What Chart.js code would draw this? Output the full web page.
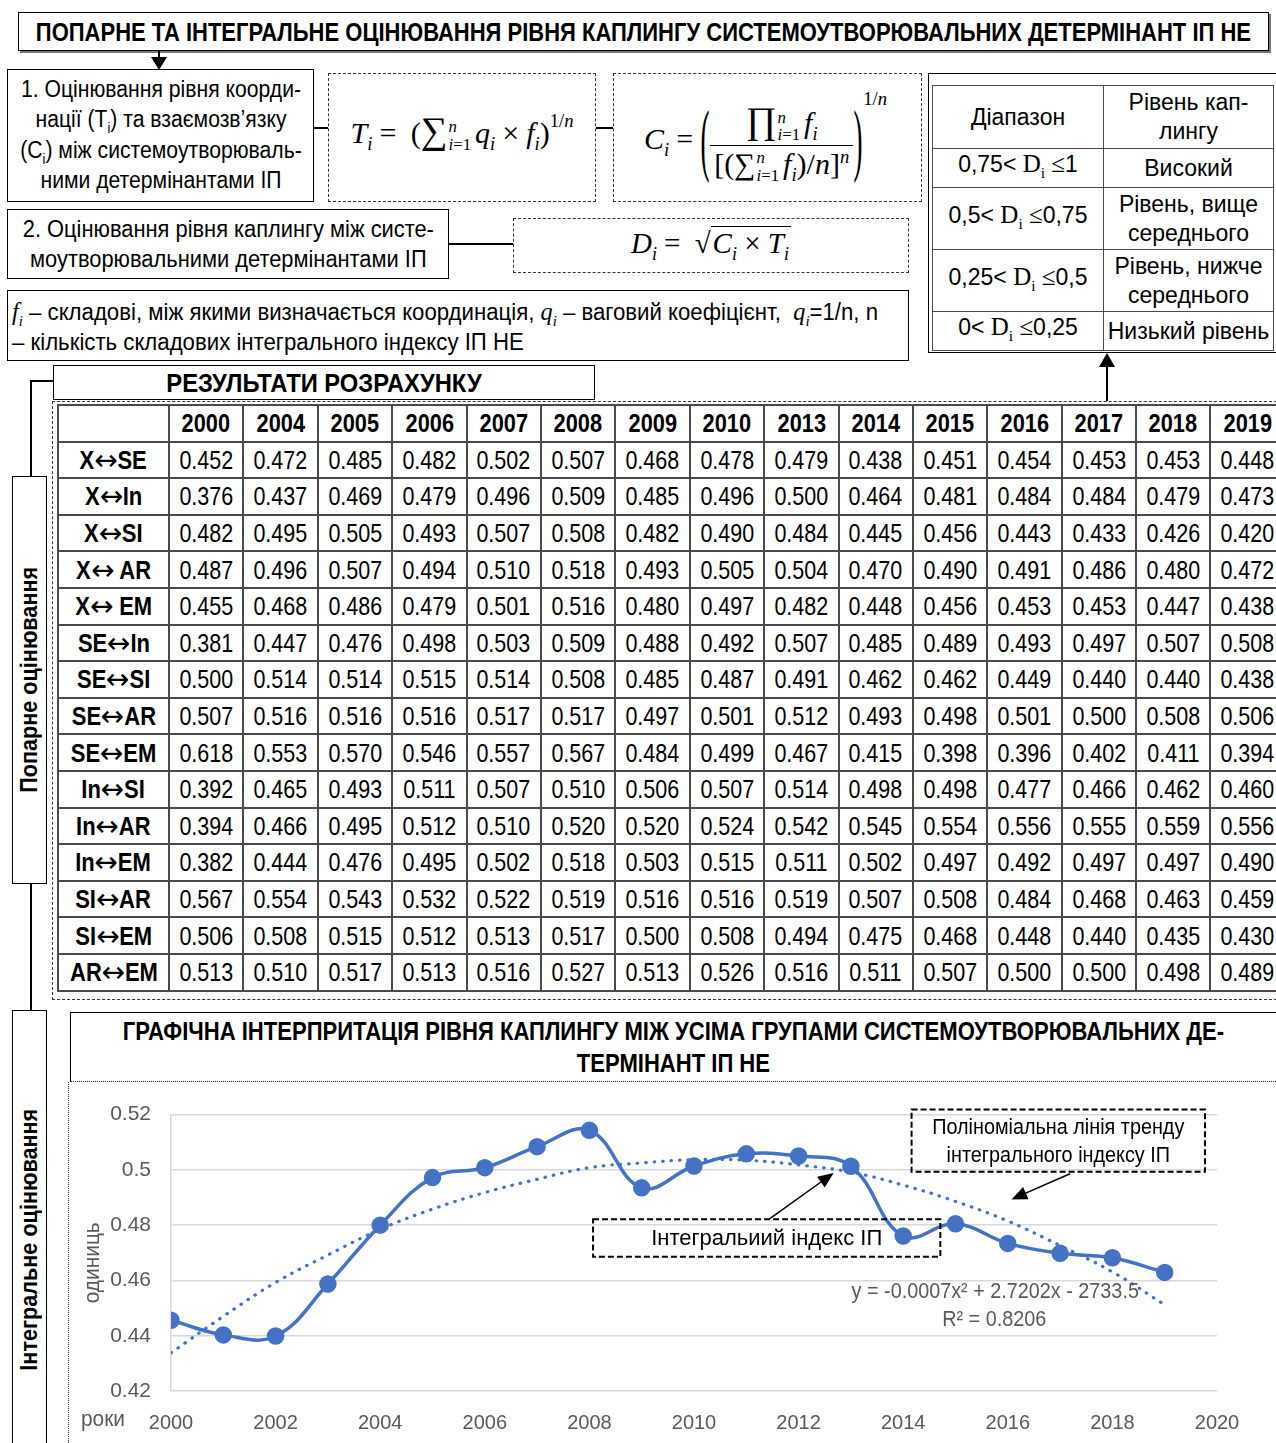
<!DOCTYPE html>
<html lang="uk">
<head>
<meta charset="utf-8">
<script src="https://cdn.jsdelivr.net/npm/chart.js@4.4.1/dist/chart.umd.min.js"></script>
<style>
  body { margin: 0; width: 1276px; height: 1443px; overflow: hidden; background: #fff; position: relative;
         font-family: "Liberation Sans", Arial, sans-serif; color: #000; }
  .abs { position: absolute; box-sizing: border-box; }
  .solid { border: 1.5px solid #000; }
  .dash { border: 1.5px dashed #333; }
  .txt { font-size: 23px; line-height: 30.5px; text-align: center; display: flex; align-items: center; justify-content: center; }
  .txt sub { line-height: 0; font-size: 60%; }
  .head { display: flex; align-items: center; justify-content: center; font-weight: bold; font-size: 25px; line-height: 32px; text-align: center; overflow: hidden; }
  .hl { background: #000; }
  .sq { display: inline-block; white-space: nowrap; transform: scaleX(var(--s, 1)); transform-origin: center; flex-shrink: 0; }
  .fx { font-family: "Liberation Serif", "DejaVu Serif", serif; font-size: 30px; white-space: nowrap; }
  .fx sub, .fx sup { font-size: 62%; }
  .op { margin: 0 7px; }
  .lim { display: inline-block; vertical-align: middle; font-size: 56%; line-height: 1.05; text-align: left; margin: 0 4px 0 1px; }
  .lim span { display: block; }
  .big { font-size: 125%; }
  .frac { display: inline-block; vertical-align: middle; text-align: center; }
  .frac > span { display: block; padding: 0 4px; line-height: 1.15; }
  .frac .num { border-bottom: 1.5px solid #000; }
  .bigp { display: inline-block; transform: scale(0.9, 2.7); vertical-align: middle; font-weight: 100; margin-top: -6px; }
  .mi { font-family: "Liberation Serif", serif; font-style: italic; font-size: 25px; line-height: 1; }
  .mi sub { font-size: 62%; line-height: 0; }
  .sr { font-family: "Liberation Serif", serif; font-size: 25px; }
  .sr sub { font-size: 62%; }
  .arr { font-family: "DejaVu Sans", sans-serif; font-weight: normal; font-size: 29px; line-height: 0; vertical-align: -1px; display: inline-block; transform: scaleX(1.1); margin: 0 1px; }
  table { border-collapse: collapse; table-layout: fixed; }
  #pairs tr { height: 36.6px; }
  #pairs td, #pairs th { border: 2px solid #4a4a4a; padding: 0; text-align: center; font-size: 25px; line-height: 28px; white-space: nowrap; overflow: hidden; }
  #pairs th { font-weight: bold; }
  #ranges td { border: 1.5px solid #4a4a4a; padding: 0; text-align: center; font-size: 23px; line-height: 29px; }
  .vlab { writing-mode: vertical-rl; transform: rotate(180deg); font-weight: bold; font-size: 23px; display: flex; align-items: center; justify-content: center; }
  .vlab span { display: inline-block; transform: scaleY(0.94); }
</style>
</head>
<body>

<div class="abs solid head" style="left:18px;top:12px;width:1251px;height:39px;box-shadow:2px 2px 0 #777;"><span class="sq fit" data-w="1215">ПОПАРНЕ ТА ІНТЕГРАЛЬНЕ ОЦІНЮВАННЯ РІВНЯ КАПЛИНГУ СИСТЕМОУТВОРЮВАЛЬНИХ ДЕТЕРМІНАНТ ІП НЕ</span></div>

<!-- arrows and connectors -->
<div class="abs hl" style="left:158px;top:51px;width:1.5px;height:10px;"></div>
<svg class="abs" style="left:150px;top:57px;" width="18" height="13"><polygon points="1,0 17,0 9,13" fill="#000"/></svg>

<div class="abs solid txt" style="left:7px;top:69px;width:307px;height:133px;padding-bottom:2px;"><span class="sq" style="--s:0.92">1. Оцінювання рівня коорди-<br>нації (T<sub>i</sub>) та взаємозв’язку<br>(C<sub>i</sub>) між системоутворюваль-<br>ними детермінантами ІП</span></div>
<div class="abs hl" style="left:314px;top:127px;width:14px;height:1.5px;"></div>

<div class="abs dash" style="left:328px;top:73px;width:268px;height:129px;display:flex;align-items:center;justify-content:center;padding-bottom:12px;">
  <div class="fx"><i>T</i><sub><i>i</i></sub><span class="op">=</span>&nbsp;(<span class="big">∑</span><span class="lim"><span><i>n</i></span><span><i>i</i>=1</span></span><i>q</i><sub><i>i</i></sub><span class="op">×</span><i>f</i><sub><i>i</i></sub>)<sup style="vertical-align:16px">1/<i>n</i></sup></div>
</div>
<div class="abs hl" style="left:596px;top:127px;width:17px;height:1.5px;"></div>

<div class="abs dash" style="left:613px;top:73px;width:309px;height:129px;display:flex;align-items:flex-start;justify-content:center;padding-top:14px;padding-right:4px;">
  <div class="fx"><i>C</i><sub><i>i</i></sub><span class="op">=</span><span class="bigp">(</span><span class="frac"><span class="num"><span class="big">∏</span><span class="lim"><span><i>n</i></span><span><i>i</i>=1</span></span><i>f</i><sub><i>i</i></sub></span><span>[(∑<span class="lim"><span><i>n</i></span><span><i>i</i>=1</span></span><i>f</i><sub><i>i</i></sub>)/<i>n</i>]<sup><i>n</i></sup></span></span><span class="bigp">)</span><sup style="vertical-align:44px">1/<i>n</i></sup></div>
</div>

<div class="abs solid txt" style="left:7px;top:209px;width:442px;height:70px;"><span class="sq" style="--s:0.95">2. Оцінювання рівня каплингу між систе-<br>моутворювальними детермінантами ІП</span></div>
<div class="abs hl" style="left:449px;top:243px;width:64px;height:1.5px;"></div>
<div class="abs dash" style="left:513px;top:218px;width:396px;height:55px;display:flex;align-items:center;justify-content:center;">
  <div class="fx" style="font-size:29px"><i>D</i><sub><i>i</i></sub><span class="op">=</span>&nbsp;√<span style="border-top:1.5px solid #000;padding:0 2px;"><i>C</i><sub><i>i</i></sub> × <i>T</i><sub><i>i</i></sub></span></div>
</div>

<div class="abs solid" style="left:7px;top:290px;width:902px;height:71px;font-size:23px;line-height:30px;padding:6px 0 0 4px;overflow:hidden;">
  <span class="sq" style="--s:0.965;transform-origin:left;"><span class="mi">f<sub>i</sub></span> – складові, між якими визначається координація, <span class="mi">q<sub>i</sub></span> – ваговий коефіцієнт,&nbsp; <span class="mi">q<sub>i</sub></span>=1/n, n<br>– кількість складових інтегрального індексу ІП НЕ</span>
</div>

<div class="abs solid" style="left:928px;top:73px;width:360px;height:280px;"></div>
<table id="ranges" class="abs" style="left:932px;top:85px;width:341px;">
  <colgroup><col style="width:171px"><col style="width:170px"></colgroup>
  <tbody id="rangeBody"></tbody>
</table>
<div class="abs hl" style="left:1106px;top:365px;width:1.5px;height:36px;"></div>
<svg class="abs" style="left:1099px;top:353px;" width="16" height="14"><polygon points="8,0 16,14 0,14" fill="#000"/></svg>

<!-- left side labels -->
<div class="abs hl" style="left:30px;top:380px;width:23px;height:1.5px;"></div>
<div class="abs hl" style="left:30px;top:380px;width:1.5px;height:96px;"></div>
<div class="abs solid vlab" style="left:12px;top:476px;width:35px;height:408px;"><span>Попарне оцінювання</span></div>
<div class="abs hl" style="left:30px;top:884px;width:1.5px;height:126px;"></div>
<div class="abs solid vlab" style="left:12px;top:1010px;width:35px;height:460px;"><span>Інтегральне оцінювання</span></div>

<div class="abs solid head" style="left:53px;top:365px;width:542px;height:35px;"><span class="sq" style="--s:0.95">РЕЗУЛЬТАТИ РОЗРАХУНКУ</span></div>
<div class="abs dash" style="left:52px;top:401px;width:1240px;height:599px;"></div>
<table id="pairs" class="abs" style="left:57px;top:404px;width:1227px;">
  <colgroup id="pairCols"></colgroup>
  <thead id="pairHead"></thead>
  <tbody id="pairBody"></tbody>
</table>

<div class="abs head" style="left:70px;top:1012px;width:1220px;height:70px;border:1.5px solid #000;border-bottom:1.5px dotted #333;padding-right:14px;"><span class="sq fit" data-w="1102">ГРАФІЧНА ІНТЕРПРИТАЦІЯ РІВНЯ КАПЛИНГУ МІЖ УСІМА ГРУПАМИ СИСТЕМОУТВОРЮВАЛЬНИХ ДЕ-<br>ТЕРМІНАНТ ІП НЕ</span></div>
<div class="abs" style="left:68px;top:1082px;width:1208px;height:361px;border-left:1.5px dotted #333;">
  <canvas id="chart" width="1207" height="361"></canvas>
</div>

<script>
// ---- table data: pairwise coupling ----
const tableYears = [2000, 2004, 2005, 2006, 2007, 2008, 2009, 2010, 2013, 2014, 2015, 2016, 2017, 2018, 2019];
const pairLeft  = ['X', 'X', 'X', 'X', 'X', 'SE', 'SE', 'SE', 'SE', 'In', 'In', 'In', 'SI', 'SI', 'AR'];
const pairRight = ['SE', 'In', 'SI', ' AR', ' EM', 'In', 'SI', 'AR', 'EM', 'SI', 'AR', 'EM', 'AR', 'EM', 'EM'];
const rowXSE  = ['0.452', '0.472', '0.485', '0.482', '0.502', '0.507', '0.468', '0.478', '0.479', '0.438', '0.451', '0.454', '0.453', '0.453', '0.448'];
const rowXIn  = ['0.376', '0.437', '0.469', '0.479', '0.496', '0.509', '0.485', '0.496', '0.500', '0.464', '0.481', '0.484', '0.484', '0.479', '0.473'];
const rowXSI  = ['0.482', '0.495', '0.505', '0.493', '0.507', '0.508', '0.482', '0.490', '0.484', '0.445', '0.456', '0.443', '0.433', '0.426', '0.420'];
const rowXAR  = ['0.487', '0.496', '0.507', '0.494', '0.510', '0.518', '0.493', '0.505', '0.504', '0.470', '0.490', '0.491', '0.486', '0.480', '0.472'];
const rowXEM  = ['0.455', '0.468', '0.486', '0.479', '0.501', '0.516', '0.480', '0.497', '0.482', '0.448', '0.456', '0.453', '0.453', '0.447', '0.438'];
const rowSEIn = ['0.381', '0.447', '0.476', '0.498', '0.503', '0.509', '0.488', '0.492', '0.507', '0.485', '0.489', '0.493', '0.497', '0.507', '0.508'];
const rowSESI = ['0.500', '0.514', '0.514', '0.515', '0.514', '0.508', '0.485', '0.487', '0.491', '0.462', '0.462', '0.449', '0.440', '0.440', '0.438'];
const rowSEAR = ['0.507', '0.516', '0.516', '0.516', '0.517', '0.517', '0.497', '0.501', '0.512', '0.493', '0.498', '0.501', '0.500', '0.508', '0.506'];
const rowSEEM = ['0.618', '0.553', '0.570', '0.546', '0.557', '0.567', '0.484', '0.499', '0.467', '0.415', '0.398', '0.396', '0.402', '0.411', '0.394'];
const rowInSI = ['0.392', '0.465', '0.493', '0.511', '0.507', '0.510', '0.506', '0.507', '0.514', '0.498', '0.498', '0.477', '0.466', '0.462', '0.460'];
const rowInAR = ['0.394', '0.466', '0.495', '0.512', '0.510', '0.520', '0.520', '0.524', '0.542', '0.545', '0.554', '0.556', '0.555', '0.559', '0.556'];
const rowInEM = ['0.382', '0.444', '0.476', '0.495', '0.502', '0.518', '0.503', '0.515', '0.511', '0.502', '0.497', '0.492', '0.497', '0.497', '0.490'];
const rowSIAR = ['0.567', '0.554', '0.543', '0.532', '0.522', '0.519', '0.516', '0.516', '0.519', '0.507', '0.508', '0.484', '0.468', '0.463', '0.459'];
const rowSIEM = ['0.506', '0.508', '0.515', '0.512', '0.513', '0.517', '0.500', '0.508', '0.494', '0.475', '0.468', '0.448', '0.440', '0.435', '0.430'];
const rowAREM = ['0.513', '0.510', '0.517', '0.513', '0.516', '0.527', '0.513', '0.526', '0.516', '0.511', '0.507', '0.500', '0.500', '0.498', '0.489'];
const pairRows = [rowXSE, rowXIn, rowXSI, rowXAR, rowXEM, rowSEIn, rowSESI, rowSEAR, rowSEEM, rowInSI, rowInAR, rowInEM, rowSIAR, rowSIEM, rowAREM];

// ---- range table ----
const rangeHeads = ['Діапазон', 'Рівень кап-<br>лингу'];
const rangeLow  = ['0,75', '0,5', '0,25', '0'];
const rangeHigh = ['1', '0,75', '0,5', '0,25'];
const rangeNames = ['Високий', 'Рівень, вище<br>середнього', 'Рівень, нижче<br>середнього', 'Низький рівень'];

// ---- chart data: integral index ----
const chartYears  = [2000, 2001, 2002, 2003, 2004, 2005, 2006, 2007, 2008, 2009, 2010, 2011, 2012, 2013, 2014, 2015, 2016, 2017, 2018, 2019];
const indexValues = [0.4456, 0.4403, 0.4399, 0.4587, 0.4800, 0.4972, 0.5008, 0.5084, 0.5143, 0.4935, 0.5014, 0.5058, 0.5050, 0.5013, 0.4761, 0.4805, 0.4734, 0.4698, 0.4682, 0.4629];
const trendValues = [0.4338, 0.4470, 0.4593, 0.4692, 0.4785, 0.4858, 0.4918, 0.4966, 0.5008, 0.5025, 0.5037, 0.5035, 0.5018, 0.4992, 0.4945, 0.4886, 0.4815, 0.4726, 0.4631, 0.4512];
const equationLines = ['y = -0.0007x² + 2.7202x - 2733.5', 'R² = 0.8206'];

const FONT = '"Liberation Sans", Arial, sans-serif';
const BLUE = '#4472C4';
const GREY = '#595959';

// build pairwise table
document.getElementById('pairCols').innerHTML = '<col style="width:111px">' + tableYears.map(() => '<col style="width:74.4px">').join('');
document.getElementById('pairHead').innerHTML = '<tr><th></th>' + tableYears.map(y => `<th><span class="sq" style="--s:0.87">${y}</span></th>`).join('') + '</tr>';
document.getElementById('pairBody').innerHTML = pairRows.map((row, i) =>
    `<tr><th><span class="sq" style="--s:0.88">${pairLeft[i]}<span class="arr">↔</span>${pairRight[i]}</span></th>` +
    row.map(v => `<td><span class="sq" style="--s:0.86">${v}</span></td>`).join('') + '</tr>'
).join('');

// build ranges table
const heights = [63, 33, 62, 62, 33];
let rhtml = `<tr style="height:${heights[0]}px"><td>${rangeHeads[0]}</td><td>${rangeHeads[1]}</td></tr>`;
rangeLow.forEach((lo, i) => {
    rhtml += `<tr style="height:${heights[i + 1]}px"><td>${lo}&lt; <span class="sr">D<sub>i</sub> ≤</span>${rangeHigh[i]}</td><td>${rangeNames[i]}</td></tr>`;
});
document.getElementById('rangeBody').innerHTML = rhtml;

// squeeze long headings to the width they take in the original
document.querySelectorAll('.fit').forEach(el => {
    el.style.setProperty('--s', (+el.dataset.w / el.offsetWidth).toFixed(3));
});

// annotation boxes, arrows and labels placed in data coordinates
const noteBoxes = [
    { x0: 2014.16, x1: 2019.77, y0: 0.5218, y1: 0.4993, squeeze: 0.9, lines: ['Поліноміальна лінія тренду', 'інтегрального індексу ІП'] },
    { x0: 2008.07, x1: 2014.71, y0: 0.4821, y1: 0.4686, squeeze: 1, lines: ['Інтегральиий індекс ІП'] }
];
const noteArrows = [
    { from: [2017.19, 0.4986], to: [2016.07, 0.4893] },
    { from: [2011.43, 0.4821], to: [2012.67, 0.4989] }
];
const equationPos = [[2015.76, 0.4557], [2015.74, 0.4457]];

const squeezedText = (ctx, text, cx, cy, k) => {
    ctx.save();
    ctx.translate(cx, cy);
    ctx.scale(k, 1);
    ctx.fillText(text, 0, 0);
    ctx.restore();
};

const notesPlugin = {
    id: 'notes',
    afterDraw(chart) {
        const { ctx, chartArea } = chart;
        const x = chart.scales.x, y = chart.scales.y;
        ctx.save();
        // axis captions
        ctx.fillStyle = GREY;
        ctx.font = `22px ${FONT}`;
        ctx.textAlign = 'center';
        ctx.textBaseline = 'middle';
        squeezedText(ctx, 'роки', chartArea.left - 68, chartArea.bottom + 29, 0.95);
        ctx.save();
        ctx.translate(chartArea.left - 78, (chartArea.top + chartArea.bottom) / 2 + 10);
        ctx.rotate(-Math.PI / 2);
        squeezedText(ctx, 'одиниць', 0, 0, 0.95);
        ctx.restore();

        // equation of trend
        ctx.font = `22px ${FONT}`;
        equationLines.forEach((t, i) => {
            squeezedText(ctx, t, x.getPixelForValue(equationPos[i][0]), y.getPixelForValue(equationPos[i][1]), 0.9);
        });

        // dashed boxes
        ctx.strokeStyle = '#000';
        ctx.lineWidth = 2;
        ctx.fillStyle = '#000';
        noteBoxes.forEach(b => {
            const l = x.getPixelForValue(b.x0), r = x.getPixelForValue(b.x1);
            const t = y.getPixelForValue(b.y0), bt = y.getPixelForValue(b.y1);
            ctx.setLineDash([6, 3]);
            ctx.strokeRect(l, t, r - l, bt - t);
            ctx.setLineDash([]);
            ctx.font = `22px ${FONT}`;
            const lh = 28;
            const cy = (t + bt) / 2 - (b.lines.length - 1) * lh / 2 + 1;
            b.lines.forEach((line, i) => squeezedText(ctx, line, (l + r) / 2, cy + i * lh, b.squeeze));
        });

        // arrows
        ctx.lineWidth = 1.5;
        noteArrows.forEach(a => {
            const x1 = x.getPixelForValue(a.from[0]), y1 = y.getPixelForValue(a.from[1]);
            const x2 = x.getPixelForValue(a.to[0]), y2 = y.getPixelForValue(a.to[1]);
            const ang = Math.atan2(y2 - y1, x2 - x1);
            ctx.beginPath();
            ctx.moveTo(x1, y1);
            ctx.lineTo(x2 - Math.cos(ang) * 10, y2 - Math.sin(ang) * 10);
            ctx.stroke();
            ctx.beginPath();
            ctx.moveTo(x2, y2);
            ctx.lineTo(x2 - Math.cos(ang - 0.4) * 17, y2 - Math.sin(ang - 0.4) * 17);
            ctx.lineTo(x2 - Math.cos(ang + 0.4) * 17, y2 - Math.sin(ang + 0.4) * 17);
            ctx.closePath();
            ctx.fill();
        });
        ctx.restore();
    }
};

new Chart(document.getElementById('chart').getContext('2d'), {
    type: 'line',
    data: {
        datasets: [
            {
                label: 'Інтегральний індекс ІП',
                data: chartYears.map((yr, i) => ({ x: yr, y: indexValues[i] })),
                borderColor: BLUE,
                backgroundColor: BLUE,
                borderWidth: 3.5,
                pointRadius: 7,
                pointHoverRadius: 7,
                tension: 0.4,
                order: 1
            },
            {
                label: 'Поліноміальна лінія тренду',
                data: chartYears.map((yr, i) => ({ x: yr, y: trendValues[i] })),
                borderColor: BLUE,
                borderWidth: 3.2,
                borderDash: [0.5, 8],
                borderCapStyle: 'round',
                pointRadius: 0,
                tension: 0.4,
                order: 2
            }
        ]
    },
    options: {
        responsive: false,
        animation: false,
        layout: { padding: { top: 28, right: 59 } },
        plugins: { legend: { display: false }, tooltip: { enabled: false } },
        scales: {
            x: {
                type: 'linear',
                min: 2000,
                max: 2020,
                afterFit: (s) => { s.height = 52; },
                grid: { display: false },
                border: { display: false },
                ticks: { stepSize: 2, color: GREY, padding: 12, maxRotation: 0, font: { family: FONT, size: 20 }, callback: v => String(v) }
            },
            y: {
                min: 0.42,
                max: 0.52,
                afterFit: (s) => { s.width = 102; },
                grid: { color: '#d9d9d9', lineWidth: 1.5, drawTicks: false },
                border: { display: true, color: '#d9d9d9', width: 1.5 },
                ticks: { stepSize: 0.02, color: GREY, padding: 20, font: { family: FONT, size: 21 }, callback: v => String(+v.toFixed(2)) }
            }
        }
    },
    plugins: [notesPlugin]
});
</script>
</body>
</html>
